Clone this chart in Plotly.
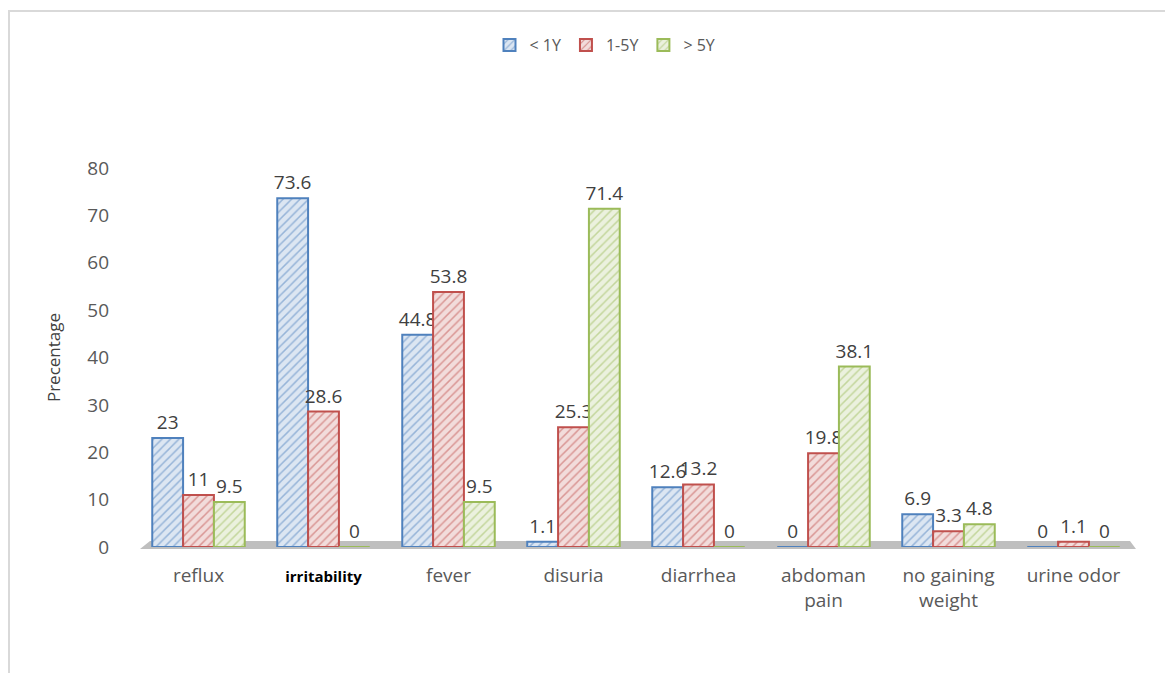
import plotly.graph_objects as go

categories = ["reflux", "irritability", "fever", "disuria", "diarrhea",
              "abdoman pain", "no gaining weight", "urine odor"]
tick_labels = ["reflux",
               "<span style='font-size:15px;color:#000000'><b>irritability</b></span>",
               "fever", "disuria", "diarrhea", "abdoman<br>pain",
               "no gaining<br>weight", "urine odor"]
under_1y = [23, 73.6, 44.8, 1.1, 12.6, 0, 6.9, 0]
y1_5 = [11, 28.6, 53.8, 25.3, 13.2, 19.8, 3.3, 1.1]
over_5y = [9.5, 0, 9.5, 71.4, 0, 38.1, 4.8, 0]
series_names = ["< 1Y", "1-5Y", "> 5Y"]

styles = [
    ("#4F81BD", "#DCE6F2"),
    ("#C0504D", "#F2DCDB"),
    ("#9BBB59", "#EBF1DE"),
]

fig = go.Figure()
for name, vals, (fg, bg) in zip(series_names, [under_1y, y1_5, over_5y], styles):
    fig.add_trace(go.Bar(
        name=name, x=categories, y=vals,
        text=[f"{v:g}" for v in vals], textposition="outside",
        textfont=dict(size=19, color="#404040"),
        constraintext="none",
        cliponaxis=False,
        marker=dict(color=bg, line=dict(color=fg, width=2),
                    pattern=dict(shape="/", fgcolor=fg, bgcolor=bg,
                                 size=6, solidity=0.25)),
    ))

W, H = 1165, 673
ml, mr, mt, mb = 136, 29, 168, 126
pw, ph = W - ml - mr, H - mt - mb

def px_x(p):
    return (p - ml) / pw

def px_y(p):
    return (H - mb - p) / ph

fig.update_layout(
    width=W, height=H,
    margin=dict(l=ml, r=mr, t=mt, b=mb),
    paper_bgcolor="white", plot_bgcolor="white",
    font=dict(family="Open Sans, sans-serif", color="#595959"),
    barmode="group", bargap=0.26, bargroupgap=0.0,
    showlegend=True,
    legend=dict(orientation="h", x=px_x(605), xanchor="center",
                y=px_y(45), yanchor="middle",
                font=dict(size=16, color="#595959"),
                traceorder="normal"),
    xaxis=dict(tickmode="array", tickvals=categories, ticktext=tick_labels,
               tickfont=dict(size=19, color="#595959"),
               showgrid=False, zeroline=False, showline=False,
               ticks="", ticklabelstandoff=15),
    yaxis=dict(range=[0, 80], dtick=10, showgrid=False, zeroline=False,
               showline=False, ticks="",
               tickfont=dict(size=19, color="#595959"),
               ticklabelstandoff=26,
               title=dict(text="Precentage", font=dict(size=17, color="#404040"),
                          standoff=22)),
    shapes=[
        # floor band
        dict(type="path", xref="paper", yref="paper", layer="below",
             path=f"M {px_x(150)} {px_y(541)} L {px_x(1130)} {px_y(541)} "
                  f"L {px_x(1136)} {px_y(549)} L {px_x(140)} {px_y(549)} Z",
             fillcolor="#BFBFBF", line=dict(width=0)),
        # outer border
        dict(type="rect", xref="paper", yref="paper", layer="below",
             x0=px_x(9), x1=px_x(1175), y0=px_y(685), y1=px_y(11),
             line=dict(color="#D9D9D9", width=2), fillcolor="rgba(0,0,0,0)"),
    ],
)

fig.write_html("out.html", config={"displayModeBar": False},
               post_script="document.body.style.margin='0';document.body.style.overflow='hidden';")
